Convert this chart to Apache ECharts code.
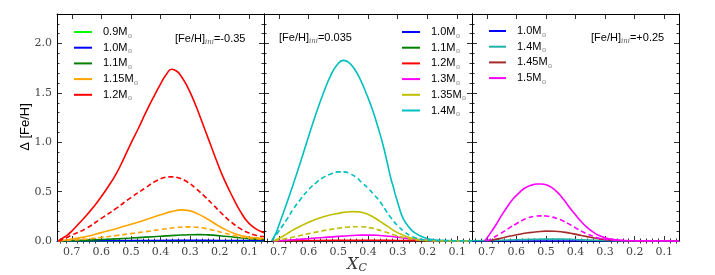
<!DOCTYPE html>
<html><head><meta charset="utf-8">
<script src="https://cdn.jsdelivr.net/npm/echarts@6/dist/echarts.min.js"></script>
<style>html,body{margin:0;padding:0;background:#fff}#c{width:715px;height:275px}</style>
</head><body><div id="c"></div>
<script>
// ---- tick values ----
const xMajor = [0.1,0.2,0.3,0.4,0.5,0.6,0.7];
const xMinor = [0.06,0.08,0.12,0.14,0.16,0.18,0.22,0.24,0.26,0.28,0.32,0.34,0.36,0.38,0.42,0.44,0.46,0.48,0.52,0.54,0.56,0.58,0.62,0.64,0.66,0.68,0.72,0.74];
const yMajor = [0,0.5,1,1.5,2];
const yMinor = [0.1,0.2,0.3,0.4,0.6,0.7,0.8,0.9,1.1,1.2,1.3,1.4,1.6,1.7,1.8,1.9,2.1,2.2];

// ---- panel labels ----
const panelFeH = ['-0.35','0.035','+0.25'];

// ---- [Fe/H]ini = -0.35 ----
const m035_m09 = [[0.75,0],[0.60,0.001],[0.40,0.002],[0.20,0.002],[0.05,0.001]];
const m035_m10 = [[0.75,0],[0.70,0.001],[0.50,0.004],[0.35,0.006],[0.25,0.006],[0.15,0.005],[0.05,0.004]];
const m035_m11 = [[0.745,0],[0.70,0.004],[0.65,0.009],[0.60,0.015],[0.55,0.022],[0.50,0.03],[0.45,0.039],[0.40,0.048],[0.35,0.057],[0.30,0.064],[0.27,0.065],[0.24,0.062],[0.20,0.053],[0.15,0.038],[0.10,0.024],[0.05,0.015]];
const m035_m115 = [[0.745,0],[0.72,0.01],[0.70,0.02],[0.65,0.045],[0.60,0.085],[0.55,0.125],[0.50,0.17],[0.45,0.215],[0.40,0.265],[0.36,0.30],[0.33,0.315],[0.30,0.305],[0.27,0.27],[0.24,0.22],[0.21,0.165],[0.18,0.115],[0.15,0.075],[0.12,0.05],[0.09,0.035],[0.05,0.025]];
const m035_m115d = [[0.745,0],[0.70,0.008],[0.65,0.02],[0.60,0.037],[0.55,0.055],[0.50,0.075],[0.45,0.095],[0.40,0.115],[0.35,0.135],[0.31,0.143],[0.28,0.14],[0.25,0.128],[0.22,0.108],[0.19,0.085],[0.16,0.062],[0.13,0.042],[0.10,0.028],[0.07,0.02],[0.05,0.017]];
const m035_m12 = [[0.746,0],[0.73,0.03],[0.715,0.06],[0.70,0.10],[0.675,0.18],[0.65,0.26],[0.625,0.35],[0.60,0.45],[0.575,0.56],[0.55,0.68],[0.525,0.83],[0.50,0.99],[0.475,1.14],[0.45,1.30],[0.425,1.45],[0.40,1.59],[0.38,1.69],[0.362,1.74],[0.345,1.72],[0.33,1.67],[0.31,1.57],[0.29,1.44],[0.27,1.29],[0.25,1.13],[0.23,0.97],[0.21,0.81],[0.19,0.66],[0.17,0.53],[0.15,0.41],[0.13,0.30],[0.11,0.21],[0.09,0.15],[0.07,0.11],[0.05,0.085]];
const m035_m12d = [[0.745,0],[0.72,0.03],[0.70,0.06],[0.65,0.13],[0.60,0.23],[0.55,0.33],[0.50,0.44],[0.45,0.54],[0.42,0.60],[0.39,0.64],[0.365,0.65],[0.34,0.64],[0.31,0.60],[0.28,0.53],[0.25,0.45],[0.22,0.36],[0.19,0.27],[0.16,0.19],[0.13,0.125],[0.10,0.08],[0.075,0.055],[0.05,0.045]];

// ---- [Fe/H]ini = 0.035 ----
const p035_m10 = [[0.72,0],[0.50,0.001],[0.30,0.001],[0.05,0]];
const p035_m11 = [[0.72,0],[0.50,0.002],[0.30,0.002],[0.05,0]];
const p035_m12 = [[0.72,0],[0.65,0.003],[0.50,0.006],[0.40,0.007],[0.30,0.005],[0.20,0.002],[0.05,0]];
const p035_m13 = [[0.72,0],[0.70,0.003],[0.65,0.012],[0.60,0.024],[0.55,0.036],[0.50,0.047],[0.45,0.056],[0.42,0.06],[0.39,0.06],[0.36,0.056],[0.33,0.048],[0.30,0.038],[0.27,0.027],[0.24,0.017],[0.21,0.009],[0.18,0.004],[0.14,0.002],[0.10,0.001],[0.05,0]];
const p035_m135 = [[0.718,0],[0.70,0.025],[0.675,0.07],[0.65,0.115],[0.625,0.155],[0.60,0.19],[0.575,0.22],[0.55,0.245],[0.525,0.265],[0.50,0.28],[0.475,0.293],[0.45,0.298],[0.43,0.295],[0.41,0.28],[0.39,0.255],[0.37,0.22],[0.35,0.18],[0.33,0.14],[0.31,0.10],[0.29,0.07],[0.27,0.045],[0.25,0.027],[0.23,0.015],[0.21,0.008],[0.18,0.003],[0.12,0.001],[0.05,0]];
const p035_m135d = [[0.715,0],[0.70,0.01],[0.675,0.025],[0.65,0.04],[0.625,0.058],[0.60,0.075],[0.575,0.09],[0.55,0.105],[0.525,0.118],[0.50,0.13],[0.475,0.139],[0.45,0.144],[0.43,0.145],[0.41,0.142],[0.39,0.133],[0.37,0.118],[0.35,0.10],[0.33,0.08],[0.31,0.06],[0.29,0.043],[0.27,0.029],[0.25,0.018],[0.23,0.01],[0.21,0.005],[0.18,0.002],[0.12,0],[0.05,0]];
const p035_m14 = [[0.724,0],[0.71,0.08],[0.70,0.16],[0.675,0.37],[0.65,0.59],[0.625,0.82],[0.60,1.06],[0.575,1.29],[0.55,1.50],[0.525,1.68],[0.505,1.78],[0.483,1.83],[0.465,1.81],[0.445,1.74],[0.425,1.63],[0.405,1.49],[0.385,1.33],[0.365,1.14],[0.35,0.98],[0.335,0.79],[0.322,0.62],[0.315,0.55],[0.31,0.49],[0.30,0.39],[0.29,0.29],[0.28,0.22],[0.265,0.15],[0.25,0.10],[0.235,0.07],[0.22,0.045],[0.20,0.025],[0.18,0.013],[0.15,0.006],[0.10,0.002],[0.05,0.001]];
const p035_m14d = [[0.724,0],[0.70,0.10],[0.675,0.21],[0.65,0.33],[0.625,0.43],[0.60,0.52],[0.575,0.59],[0.55,0.645],[0.525,0.68],[0.50,0.70],[0.48,0.70],[0.46,0.68],[0.44,0.645],[0.42,0.59],[0.40,0.535],[0.38,0.47],[0.36,0.40],[0.34,0.31],[0.32,0.225],[0.30,0.155],[0.28,0.10],[0.26,0.058],[0.24,0.032],[0.22,0.016],[0.20,0.008],[0.15,0.003],[0.10,0.001],[0.05,0]];

// ---- [Fe/H]ini = +0.25 ----
const p25_m10 = [[0.75,0],[0.05,0]];
const p25_m14 = [[0.75,0.002],[0.70,0.004],[0.65,0.008],[0.60,0.012],[0.55,0.016],[0.50,0.019],[0.45,0.019],[0.40,0.015],[0.35,0.009],[0.30,0.004],[0.25,0.001],[0.05,0]];
const p25_m145 = [[0.70,0],[0.68,0.01],[0.65,0.03],[0.62,0.05],[0.59,0.068],[0.56,0.083],[0.53,0.094],[0.50,0.10],[0.47,0.099],[0.44,0.09],[0.41,0.075],[0.38,0.056],[0.35,0.038],[0.32,0.022],[0.29,0.011],[0.26,0.005],[0.22,0.002],[0.15,0.001],[0.05,0]];
const p25_m15 = [[0.707,0],[0.69,0.07],[0.67,0.16],[0.65,0.26],[0.63,0.35],[0.61,0.43],[0.59,0.49],[0.57,0.54],[0.55,0.565],[0.53,0.577],[0.515,0.578],[0.50,0.57],[0.48,0.54],[0.46,0.49],[0.44,0.42],[0.42,0.34],[0.40,0.265],[0.38,0.195],[0.36,0.135],[0.34,0.09],[0.32,0.055],[0.30,0.033],[0.28,0.019],[0.26,0.011],[0.24,0.006],[0.20,0.002],[0.15,0.001],[0.05,0]];
const p25_m15d = [[0.70,0],[0.68,0.03],[0.66,0.065],[0.64,0.10],[0.62,0.14],[0.60,0.175],[0.58,0.21],[0.56,0.235],[0.54,0.25],[0.52,0.255],[0.50,0.253],[0.48,0.243],[0.46,0.225],[0.44,0.20],[0.42,0.168],[0.40,0.133],[0.38,0.10],[0.36,0.07],[0.34,0.046],[0.32,0.028],[0.30,0.017],[0.28,0.01],[0.26,0.006],[0.22,0.002],[0.15,0.001],[0.05,0]];

const panels = [
  {left:57, width:207, legLeft:69, legTop:20, iw:18, annX:175, annY:39,
   curves:[
    {m:'0.9', c:'#00FF00', d:m035_m09},
    {m:'1.0', c:'#0000FF', d:m035_m10},
    {m:'1.1', c:'#008000', d:m035_m11},
    {m:'1.15', c:'#FFA500', d:m035_m115},
    {m:'1.2', c:'#FF0000', d:m035_m12},
    {m:'1.15', c:'#FFA500', d:m035_m115d, dash:true},
    {m:'1.2', c:'#FF0000', d:m035_m12d, dash:true}]},
  {left:264, width:208, legLeft:397, legTop:20, iw:18, annX:279, annY:38,
   curves:[
    {m:'1.0', c:'#0000FF', d:p035_m10},
    {m:'1.1', c:'#008000', d:p035_m11},
    {m:'1.2', c:'#FF0000', d:p035_m12},
    {m:'1.3', c:'#FF00FF', d:p035_m13},
    {m:'1.35', c:'#BFBF00', d:p035_m135},
    {m:'1.4', c:'#00BFBF', d:p035_m14},
    {m:'1.35', c:'#BFBF00', d:p035_m135d, dash:true},
    {m:'1.4', c:'#00BFBF', d:p035_m14d, dash:true}]},
  {left:472, width:207, legLeft:484, legTop:19, iw:17, annX:591, annY:38,
   curves:[
    {m:'1.0', c:'#0000FF', d:p25_m10},
    {m:'1.4', c:'#20B2AA', d:p25_m14},
    {m:'1.45', c:'#A52A2A', d:p25_m145},
    {m:'1.5', c:'#FF00FF', d:p25_m15},
    {m:'1.5', c:'#FF00FF', d:p25_m15d, dash:true}]}
];

const TOP = 14, H = 227;
const grid=[], xAxis=[], yAxis=[], series=[], legend=[], graphic=[];
const tickLine = {color:'#000', width:0.8};
const labelStyle = {fontFamily:'DejaVu Serif', fontSize:11, color:'#444'};

panels.forEach((p,i)=>{
  grid.push({left:p.left, top:TOP, width:p.width, height:H});
  const xb = {gridIndex:i, type:'value', min:0.05, max:0.75, inverse:true, splitLine:{show:false}, axisPointer:{show:false}};
  const yb = {gridIndex:i, type:'value', min:0, max:2.3, splitLine:{show:false}, axisPointer:{show:false}};
  xAxis.push(Object.assign({}, xb, {position:'bottom',
    axisLine:{show:true, onZero:false, lineStyle:{color:'#000', width:1}},
    axisTick:{show:true, inside:true, length:5, customValues:xMajor, lineStyle:tickLine},
    axisLabel:{show:true, customValues:xMajor, margin:6, formatter:v=>v.toFixed(1), ...labelStyle}}));
  xAxis.push(Object.assign({}, xb, {position:'bottom', axisLine:{show:false},
    axisTick:{show:true, inside:true, length:2.5, customValues:xMinor, lineStyle:tickLine}, axisLabel:{show:false}}));
  xAxis.push(Object.assign({}, xb, {position:'top',
    axisLine:{show:true, onZero:false, lineStyle:{color:'#000', width:1}},
    axisTick:{show:true, inside:true, length:5, customValues:xMajor, lineStyle:tickLine}, axisLabel:{show:false}}));
  xAxis.push(Object.assign({}, xb, {position:'top', axisLine:{show:false},
    axisTick:{show:true, inside:true, length:2.5, customValues:xMinor, lineStyle:tickLine}, axisLabel:{show:false}}));
  yAxis.push(Object.assign({}, yb, {position:'left',
    axisLine:{show:true, onZero:false, lineStyle:{color:'#000', width:1}},
    axisTick:{show:true, inside:true, length:5, customValues:yMajor, lineStyle:tickLine},
    axisLabel:{show:i===0, customValues:yMajor, margin:5, formatter:v=>v.toFixed(1), ...labelStyle}}));
  yAxis.push(Object.assign({}, yb, {position:'left', axisLine:{show:false},
    axisTick:{show:true, inside:true, length:2.5, customValues:yMinor, lineStyle:tickLine}, axisLabel:{show:false}}));
  yAxis.push(Object.assign({}, yb, {position:'right',
    axisLine:{show:true, onZero:false, lineStyle:{color:'#000', width:1}},
    axisTick:{show:true, inside:true, length:5, customValues:yMajor, lineStyle:tickLine}, axisLabel:{show:false}}));
  yAxis.push(Object.assign({}, yb, {position:'right', axisLine:{show:false},
    axisTick:{show:true, inside:true, length:2.5, customValues:yMinor, lineStyle:tickLine}, axisLabel:{show:false}}));

  const legNames = [];
  p.curves.forEach((cv,k)=>{
    const name = 'p'+i+'|'+cv.m + (cv.dash ? '|d' : '');
    if(!cv.dash) legNames.push(name);
    series.push({type:'line', name:name, xAxisIndex:4*i, yAxisIndex:4*i, data:cv.d,
      symbol:'none', showSymbol:false, smooth:0.5, clip:true, silent:true,
      animation:false, z:2+k,
      lineStyle:{color:cv.c, width:1.6, type: cv.dash ? [5,3] : 'solid'},
      itemStyle:{color:cv.c}, emphasis:{disabled:true}});
  });
  legend.push({orient:'vertical', left:p.legLeft, top:p.legTop, itemWidth:p.iw, itemHeight:2,
    itemGap:1.7, icon:'rect', selectedMode:false, data:legNames,
    formatter:n=>n.split('|')[1]+'M{s|⊙}',
    textStyle:{fontFamily:'Liberation Sans', fontSize:11, color:'#000', lineHeight:14, padding:[0,0,0,6],
      rich:{s:{fontFamily:'DejaVu Sans', fontSize:6, color:'#777', lineHeight:14, verticalAlign:'bottom', padding:[5,0,0,0]}}}});

  graphic.push({type:'text', x:p.annX, y:p.annY, silent:true,
    style:{text:'[Fe/H]{i|ini}='+panelFeH[i], fill:'#000', font:'11px Liberation Sans', verticalAlign:'middle',
      rich:{i:{fontFamily:'DejaVu Serif', fontStyle:'italic', fontSize:7, fill:'#555', padding:[6,0,0,0]}}}});
});

graphic.push({type:'text', x:25, y:127, rotation:Math.PI/2, silent:true,
  style:{text:'Δ [Fe/H]', fill:'#000', font:'13px Liberation Sans', align:'center', verticalAlign:'middle'}});
graphic.push({type:'text', x:357, y:265, silent:true,
  style:{text:'{x|X}{c|C}', align:'center', verticalAlign:'middle',
    rich:{x:{fontFamily:'DejaVu Serif', fontStyle:'italic', fontSize:16, fill:'#333'},
          c:{fontFamily:'DejaVu Serif', fontStyle:'italic', fontSize:11, fill:'#333', padding:[7,0,0,0]}}}});

const chart = echarts.init(document.getElementById('c'), null, {renderer:'canvas'});
chart.setOption({animation:false, backgroundColor:'#fff', grid, xAxis, yAxis, series, legend, graphic});
</script></body></html>
